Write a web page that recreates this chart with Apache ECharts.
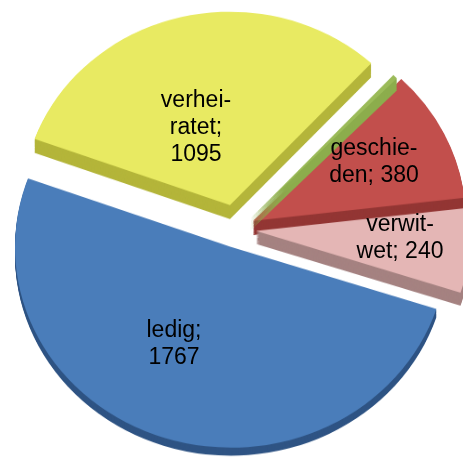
<!DOCTYPE html>
<html>
<head>
<meta charset="utf-8">
<script src="https://cdn.jsdelivr.net/npm/echarts@6/dist/echarts.min.js"></script>
<style>
html, body { margin: 0; padding: 0; background: #fff; }
#wrap { position: relative; width: 463px; height: 459px; overflow: hidden; }
#pie { position: absolute; left: 0; top: 0; width: 463px; height: 494px; transform: scaleY(0.9291); transform-origin: 0 0; }
#labels { position: absolute; left: 0; top: 0; width: 463px; height: 459px; }
</style>
</head>
<body>
<div id="wrap">
    <div id="pie"></div>
    <div id="labels"></div>
</div>
<script>
// Familienstand
const categories = ['verheiratet', 'unbekannt', 'geschieden', 'verwitwet', 'ledig']
const values = [1095, 13, 380, 240, 1767]
const labelTexts = ['verhei-\nratet;\n', '', 'geschie-\nden; ', 'verwit-\nwet; ', 'ledig;\n']

const topColors = ['#E8EA62', '#9BBB59', '#C24F4C', '#E4B6B5', '#4A7DBA']
const sideColors = ['#B4B53A', '#8CAD4C', '#933634', '#A58281', '#2F5484']

// tilt of the 3d pie: the pie chart is squashed vertically by this factor
const tilt = 459 / 494
// exploded slice centres (screen px), radii, side depth, label centres
const centers = [[230, 205], [250, 219], [253, 221], [256, 231], [231, 247]]
const radii = [208, 211, 213, 215, 216]
const depths = [14, 12, 14, 13, 8]
const labelPos = [[196, 128], null, [374, 162], [400, 238], [174, 344]]
const drawOrder = [0, 2, 1, 3, 4] // back to front
const startAngle = 160

function sliceData(i, color) {
    return values.map((v, j) => ({
        name: categories[j],
        value: v,
        itemStyle: {color: j === i ? color : 'rgba(0,0,0,0)'}
    }))
}

function slice(i, cx, cy, color) {
    return {
        type: 'pie',
        silent: true,
        center: [cx, cy / tilt],
        radius: [0, radii[i]],
        startAngle: startAngle,
        clockwise: true,
        itemStyle: {borderWidth: 0},
        label: {show: false},
        labelLine: {show: false},
        emphasis: {disabled: true},
        data: sliceData(i, color)
    }
}

const series = []
drawOrder.forEach(i => {
    const [cx, cy] = centers[i]
    // side of the slice: darker copies shifted down
    for (let t = depths[i]; t >= 1; t--) {
        series.push(slice(i, cx, cy + t, sideColors[i]))
    }
    series.push(slice(i, cx, cy, topColors[i]))
})

const pieChart = echarts.init(document.getElementById('pie'))
pieChart.setOption({animation: false, series: series})

// labels drawn unsquashed on top
const labelChart = echarts.init(document.getElementById('labels'))
labelChart.setOption({
    animation: false,
    series: [{
        type: 'pie',
        silent: true,
        center: [230, 230],
        radius: [0, 200],
        startAngle: startAngle,
        itemStyle: {color: 'rgba(0,0,0,0)', borderWidth: 0},
        label: {
            position: 'inside',
            color: '#000',
            fontFamily: 'Liberation Sans, Arial, sans-serif',
            fontSize: 23,
            lineHeight: 27,
            align: 'center',
            formatter: p => labelTexts[p.dataIndex] + p.value
        },
        labelLine: {show: false},
        labelLayout: p => labelPos[p.dataIndex] ? {
            x: labelPos[p.dataIndex][0],
            y: labelPos[p.dataIndex][1],
            align: 'center',
            verticalAlign: 'middle'
        } : {},
        emphasis: {disabled: true},
        data: values.map((v, j) => ({
            name: categories[j],
            value: v,
            label: {show: labelTexts[j] !== ''}
        }))
    }]
})
</script>
</body>
</html>
